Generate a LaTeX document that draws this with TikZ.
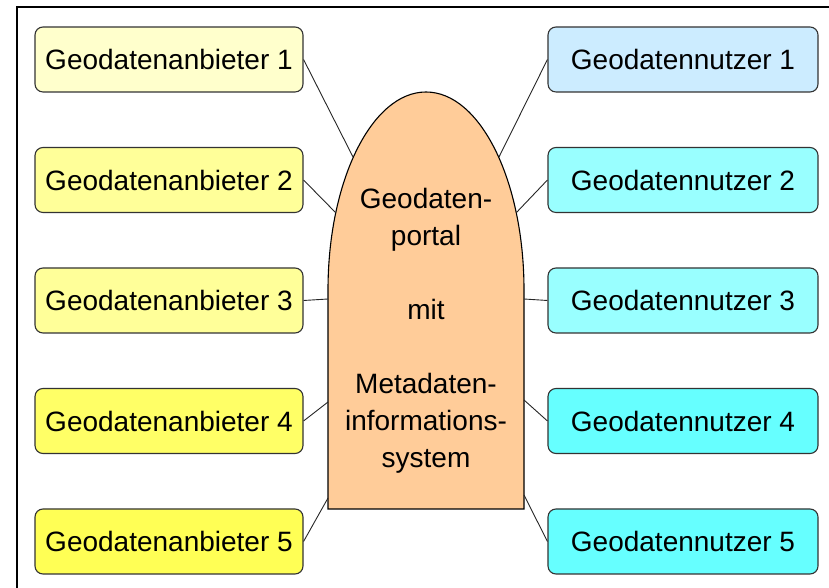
\documentclass[tikz,border=0pt]{standalone}
\usepackage{fontspec}
\setmainfont{Liberation Sans}
\usetikzlibrary{positioning}

\definecolor{anb1}{HTML}{FFFFCC}
\definecolor{anb2}{HTML}{FFFF99}
\definecolor{anb3}{HTML}{FFFF99}
\definecolor{anb4}{HTML}{FFFF66}
\definecolor{anb5}{HTML}{FFFF55}
\definecolor{nutz1}{HTML}{CCECFF}
\definecolor{nutz2}{HTML}{99FFFF}
\definecolor{nutz3}{HTML}{99FFFF}
\definecolor{nutz4}{HTML}{66FFFF}
\definecolor{nutz5}{HTML}{66FFFF}
\definecolor{portalfill}{HTML}{FFCC99}

\tikzset{
  geobox/.style={draw=black!80, line width=1.1pt, rounded corners=8pt,
    minimum height=65pt, inner sep=0pt, font=\fontsize{28}{34}\selectfont},
  anbieter/.style={geobox, minimum width=268pt},
  nutzer/.style={geobox, minimum width=270pt},
  link/.style={draw=black!85, line width=0.9pt},
}

\begin{document}
\begin{tikzpicture}[x=1pt, y=1pt]
  \useasboundingbox (0,0) rectangle (829,588);
  \draw[line width=1.5pt] (17,0) -- (17,581) -- (829,581);

  % portal
  \draw[fill=portalfill, line width=1.1pt] (328,79) -- (328,298)
    arc[start angle=180, end angle=0, x radius=98, y radius=198] -- (524,79) -- cycle;
  \node[align=center, font=\fontsize{28}{37}\selectfont] (portal) at (426,257)
    {Geodaten-\\portal\\[37pt]mit\\[37pt]Metadaten-\\informations-\\system};

  \coordinate (l1) at (353,431);
  \coordinate (l2) at (336,375);
  \coordinate (l3) at (328,289);
  \coordinate (l4) at (328,186);
  \coordinate (l5) at (328,90);
  \coordinate (r1) at (499,431);
  \coordinate (r2) at (516,375);
  \coordinate (r3) at (524,289);
  \coordinate (r4) at (524,188);
  \coordinate (r5) at (524,93);

  \node[anbieter, fill=anb1] (a1) at (169,528.5) {Geodatenanbieter 1};
  \node[anbieter, fill=anb2] (a2) at (169,408) {Geodatenanbieter 2};
  \node[anbieter, fill=anb3] (a3) at (169,287.5) {Geodatenanbieter 3};
  \node[anbieter, fill=anb4] (a4) at (169,167) {Geodatenanbieter 4};
  \node[anbieter, fill=anb5] (a5) at (169,46.5) {Geodatenanbieter 5};

  \node[nutzer, fill=nutz1] (n1) at (683,528.5) {Geodatennutzer 1};
  \node[nutzer, fill=nutz2] (n2) at (683,408) {Geodatennutzer 2};
  \node[nutzer, fill=nutz3] (n3) at (683,287.5) {Geodatennutzer 3};
  \node[nutzer, fill=nutz4] (n4) at (683,167) {Geodatennutzer 4};
  \node[nutzer, fill=nutz5] (n5) at (683,46.5) {Geodatennutzer 5};

  \draw[link] (a1.east) -- (l1);
  \draw[link] (a2.east) -- (l2);
  \draw[link] (a3.east) -- (l3);
  \draw[link] (a4.east) -- (l4);
  \draw[link] (a5.east) -- (l5);
  \draw[link] (n1.west) -- (r1);
  \draw[link] (n2.west) -- (r2);
  \draw[link] (n3.west) -- (r3);
  \draw[link] (n4.west) -- (r4);
  \draw[link] (n5.west) -- (r5);
\end{tikzpicture}
\end{document}
